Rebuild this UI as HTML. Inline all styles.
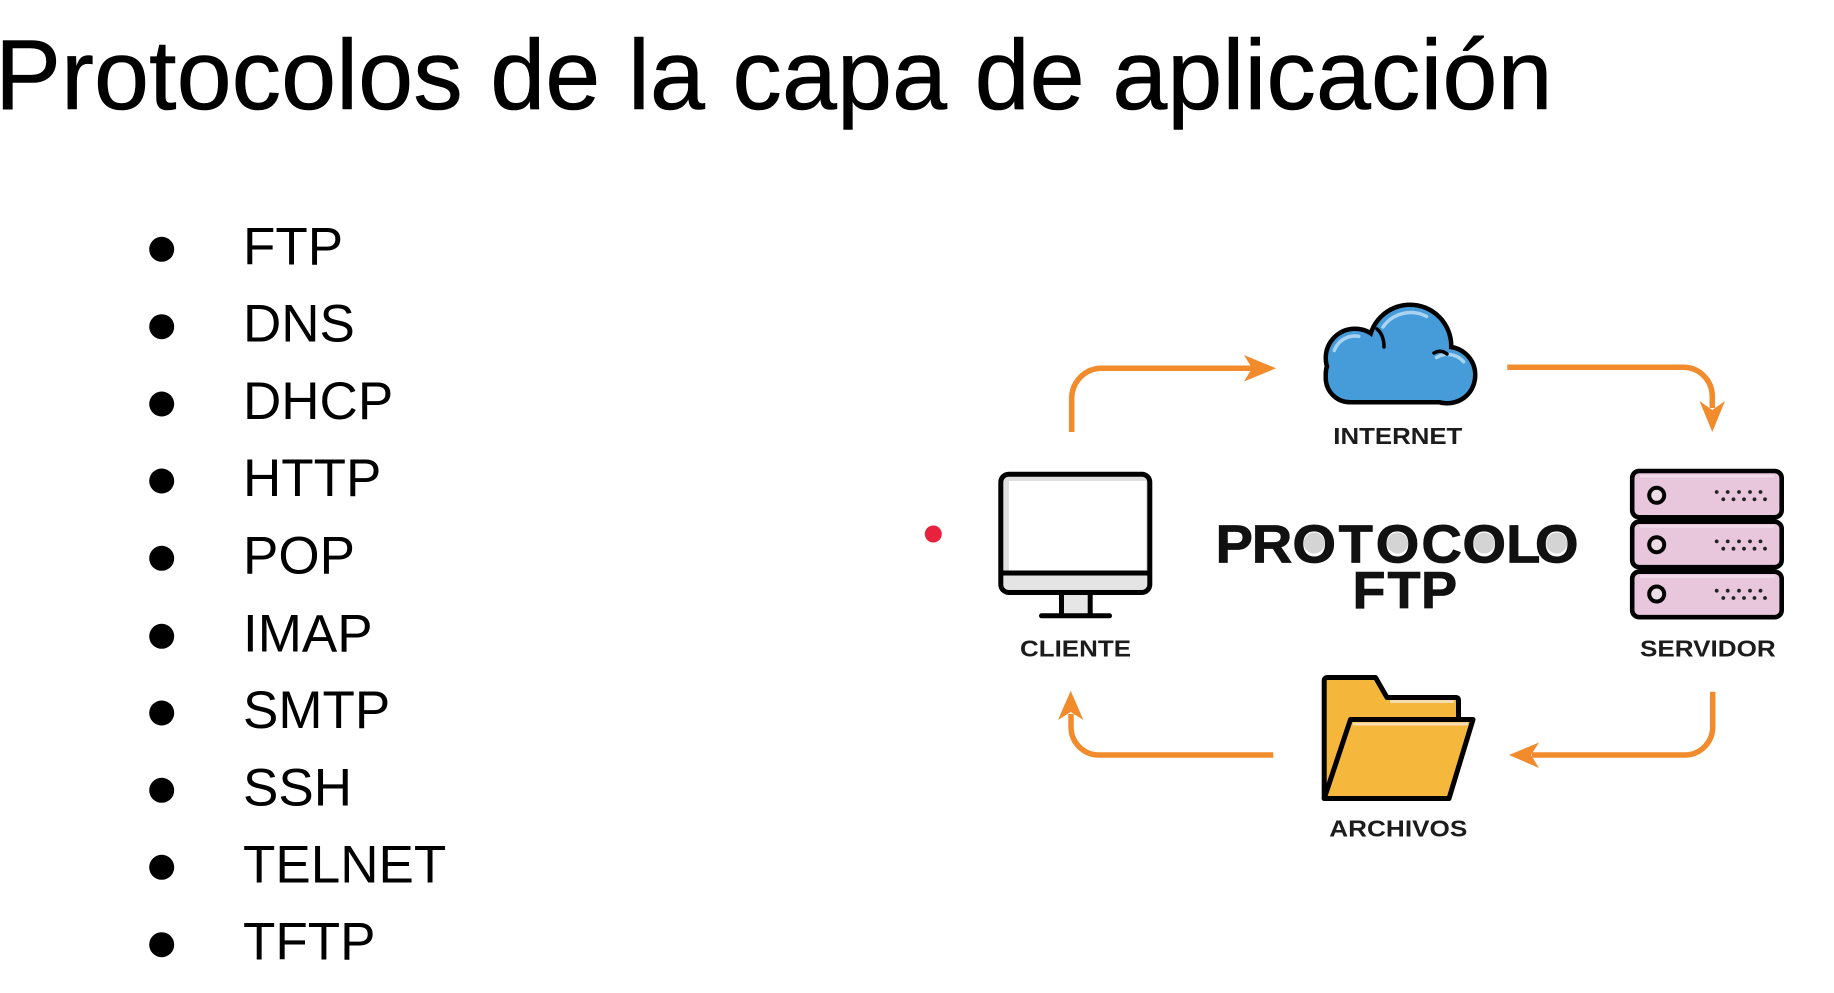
<!DOCTYPE html>
<html><head><meta charset="utf-8"><style>
html,body{margin:0;padding:0;background:#fff;}
svg{display:block}
</style></head><body>
<svg width="1834" height="993" viewBox="0 0 1834 993" xmlns="http://www.w3.org/2000/svg">
<rect width="1834" height="993" fill="#fff"/>

<!-- Title -->
<text x="-5" y="109" font-family="'Liberation Sans', Arial, sans-serif" font-size="99" fill="#000" stroke="#000" stroke-width="0.6">Protocolos de la capa de aplicación</text>

<!-- Bullet list -->
<g fill="#000">
<circle cx="161.7" cy="249.3" r="12.5"/>
<circle cx="161.7" cy="326.7" r="12.5"/>
<circle cx="161.7" cy="404" r="12.5"/>
<circle cx="161.7" cy="481" r="12.5"/>
<circle cx="161.7" cy="558.3" r="12.5"/>
<circle cx="161.7" cy="636.3" r="12.5"/>
<circle cx="161.7" cy="713" r="12.5"/>
<circle cx="161.7" cy="790.3" r="12.5"/>
<circle cx="161.7" cy="867.3" r="12.5"/>
<circle cx="161.7" cy="944.7" r="12.5"/>
</g>
<g font-family="'Liberation Sans', Arial, sans-serif" font-size="53" fill="#000">
<text x="243" y="264.3">FTP</text>
<text x="243" y="341.7">DNS</text>
<text x="243" y="419">DHCP</text>
<text x="243" y="496">HTTP</text>
<text x="243" y="573.3">POP</text>
<text x="243" y="651.3">IMAP</text>
<text x="243" y="728">SMTP</text>
<text x="243" y="805.3">SSH</text>
<text x="243" y="882.3">TELNET</text>
<text x="243" y="959.7">TFTP</text>
</g>

<!-- Red dot -->
<circle cx="933.3" cy="534" r="8.5" fill="#e8213f"/>

<!-- Arrows -->
<g fill="none" stroke="#f28b2b" stroke-width="5.5">
<path d="M1071.7,432 V398.3 A30,30 0 0 1 1101.7,368.3 H1252"/>
<path d="M1507.3,367.3 H1683.3 A29,29 0 0 1 1712.3,396.3 V408"/>
<path d="M1712.7,691.7 V727 A28,28 0 0 1 1684.7,755 H1532"/>
<path d="M1273.3,755 H1099 A28,28 0 0 1 1071,727 V714"/>
</g>
<g fill="#f28b2b">
<polygon points="1276,368.3 1244,355 1252,368.3 1244,381.5"/>
<polygon points="1712.3,432 1699.5,401 1712.3,410 1725,401"/>
<polygon points="1509,755 1539,742.5 1531,755 1539,768"/>
<polygon points="1070.7,690.7 1058,720 1070.7,712 1083.4,720"/>
</g>

<!-- Cloud -->
<g fill="#000" stroke="#000" stroke-width="9" stroke-linejoin="round">
<circle cx="1355" cy="358" r="27"/>
<circle cx="1410" cy="346" r="39"/>
<circle cx="1447" cy="375" r="26"/>
<rect x="1328" y="352" width="144" height="48" rx="22"/>
</g>
<g fill="#469cd8">
<circle cx="1355" cy="358" r="27"/>
<circle cx="1410" cy="346" r="39"/>
<circle cx="1447" cy="375" r="26"/>
<rect x="1328" y="352" width="144" height="48" rx="22"/>
</g>
<g fill="none" stroke="#a9d4f1" stroke-width="3.5" stroke-linecap="round">
<path d="M1334.3,350.5 A22,22 0 0 1 1358.8,336.3"/>
<path d="M1383,327 A34,34 0 0 1 1426.5,316.4"/>
<path d="M1436.5,357.5 A21,21 0 0 1 1463.6,361.8"/>
</g>
<g fill="none" stroke="#000" stroke-width="3.5" stroke-linecap="round">
<path d="M1377,329 Q1384,335 1384,347"/>
<path d="M1434,353 Q1441,349 1447,354"/>
</g>

<!-- Monitor -->
<rect x="1000.8" y="474.2" width="149" height="118.3" rx="8" fill="#dedede"/>
<rect x="1009" y="481" width="137" height="89.5" fill="#fff"/>
<rect x="1003" y="576" width="145" height="13" fill="#e4e4e4"/>
<rect x="1000.8" y="474.2" width="149" height="118.3" rx="8" fill="none" stroke="#000" stroke-width="5"/>
<line x1="1002" y1="573" x2="1149" y2="573" stroke="#000" stroke-width="5"/>
<rect x="1061.5" y="595" width="28.7" height="19" fill="#e6e6e6"/>
<line x1="1061.5" y1="594" x2="1061.5" y2="615" stroke="#000" stroke-width="5"/>
<line x1="1090.2" y1="594" x2="1090.2" y2="615" stroke="#000" stroke-width="5"/>
<line x1="1041.5" y1="615.8" x2="1109.5" y2="615.8" stroke="#000" stroke-width="5" stroke-linecap="round"/>

<!-- Server -->
<g stroke="#000" stroke-width="4.6" fill="#e8c7dd">
<rect x="1632.2" y="471" width="149.5" height="46.3" rx="7"/>
<rect x="1632.2" y="521.7" width="149.5" height="45.5" rx="7"/>
<rect x="1632.2" y="571.7" width="149.5" height="45.5" rx="7"/>
</g>
<g stroke="#f1dbe9" stroke-width="2.5">
<line x1="1640" y1="476" x2="1774" y2="476"/>
<line x1="1640" y1="526.5" x2="1774" y2="526.5"/>
<line x1="1640" y1="576.5" x2="1774" y2="576.5"/>
</g>
<g stroke="#000" stroke-width="4" fill="#ecdde6">
<circle cx="1656.7" cy="495.3" r="7.5"/>
<circle cx="1656.7" cy="544.7" r="7.5"/>
<circle cx="1656.7" cy="594" r="7.5"/>
</g>
<g fill="#222">
<circle cx="1716.7" cy="492" r="1.9"/><circle cx="1727.7" cy="492" r="1.9"/><circle cx="1739" cy="492" r="1.9"/><circle cx="1750" cy="492" r="1.9"/><circle cx="1760.5" cy="492" r="1.9"/>
<circle cx="1723.3" cy="499.3" r="1.9"/><circle cx="1733.5" cy="499.3" r="1.9"/><circle cx="1744" cy="499.3" r="1.9"/><circle cx="1754.5" cy="499.3" r="1.9"/><circle cx="1765" cy="499.3" r="1.9"/>
<circle cx="1716.7" cy="541.4" r="1.9"/><circle cx="1727.7" cy="541.4" r="1.9"/><circle cx="1739" cy="541.4" r="1.9"/><circle cx="1750" cy="541.4" r="1.9"/><circle cx="1760.5" cy="541.4" r="1.9"/>
<circle cx="1723.3" cy="548.7" r="1.9"/><circle cx="1733.5" cy="548.7" r="1.9"/><circle cx="1744" cy="548.7" r="1.9"/><circle cx="1754.5" cy="548.7" r="1.9"/><circle cx="1765" cy="548.7" r="1.9"/>
<circle cx="1716.7" cy="590.7" r="1.9"/><circle cx="1727.7" cy="590.7" r="1.9"/><circle cx="1739" cy="590.7" r="1.9"/><circle cx="1750" cy="590.7" r="1.9"/><circle cx="1760.5" cy="590.7" r="1.9"/>
<circle cx="1723.3" cy="598" r="1.9"/><circle cx="1733.5" cy="598" r="1.9"/><circle cx="1744" cy="598" r="1.9"/><circle cx="1754.5" cy="598" r="1.9"/><circle cx="1765" cy="598" r="1.9"/>
</g>

<!-- Folder -->
<path d="M1324.2,798.5 V681 Q1324.2,677.5 1327.7,677.5 H1375.5 L1387,697.5 H1456 Q1458.5,697.5 1458.5,700 V722 L1324.2,798.5 Z" fill="#f5b73b" stroke="#000" stroke-width="5" stroke-linejoin="round"/>
<line x1="1390" y1="701.5" x2="1454" y2="701.5" stroke="#f3dcae" stroke-width="3"/>
<path d="M1350.5,719.5 H1473 L1449,798.5 H1324.2 Z" fill="#f6b83c" stroke="#000" stroke-width="5" stroke-linejoin="round"/>
<line x1="1353" y1="724" x2="1468" y2="724" stroke="#f5ddb0" stroke-width="3"/>

<!-- Labels -->
<g font-family="'Liberation Sans', Arial, sans-serif" font-weight="bold" font-size="23.5" fill="#1c1c1c">
<text x="1333.3" y="444" textLength="129" lengthAdjust="spacingAndGlyphs">INTERNET</text>
<text x="1020" y="656.7" textLength="111" lengthAdjust="spacingAndGlyphs">CLIENTE</text>
<text x="1640" y="656.7" textLength="135.7" lengthAdjust="spacingAndGlyphs">SERVIDOR</text>
<text x="1329.3" y="836.7" textLength="138" lengthAdjust="spacingAndGlyphs">ARCHIVOS</text>
</g>

<!-- PROTOCOLO FTP -->
<g fill="#d4d4d4">
<ellipse cx="1314.2" cy="543" rx="10.5" ry="10.5"/>
<ellipse cx="1397.5" cy="543" rx="10.5" ry="10.5"/>
<ellipse cx="1484.2" cy="543" rx="10.5" ry="10.5"/>
<ellipse cx="1556.7" cy="543" rx="10.5" ry="10.5"/>
</g>
<g font-family="'Liberation Sans', Arial, sans-serif" font-weight="bold" font-size="54" fill="#111" stroke="#111" stroke-width="0.8" text-anchor="middle">
<text transform="translate(1234.2,562.5) scale(1.04,1)">P</text>
<text transform="translate(1272,562.5) scale(1.04,1)">R</text>
<text transform="translate(1314.2,562.5) scale(1.04,1)">O</text>
<text transform="translate(1355.8,562.5) scale(1.04,1)">T</text>
<text transform="translate(1397.5,562.5) scale(1.04,1)">O</text>
<text transform="translate(1441.7,562.5) scale(1.04,1)">C</text>
<text transform="translate(1484.2,562.5) scale(1.04,1)">O</text>
<text transform="translate(1523.3,562.5) scale(1.04,1)">L</text>
<text transform="translate(1556.7,562.5) scale(1.04,1)">O</text>
</g>
<g font-family="'Liberation Sans', Arial, sans-serif" font-weight="bold" font-size="52" fill="#111" stroke="#111" stroke-width="0.8" text-anchor="middle">
<text transform="translate(1369,608) scale(1.04,1)">F</text>
<text transform="translate(1404,608) scale(1.04,1)">T</text>
<text transform="translate(1439,608) scale(1.04,1)">P</text>
</g>
</svg>
</body></html>
